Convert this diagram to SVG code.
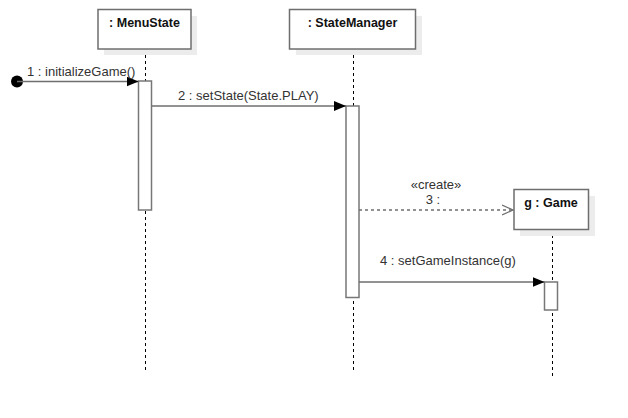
<svg xmlns="http://www.w3.org/2000/svg" width="628" height="418" viewBox="0 0 628 418">
<style>
.shadow{fill:#ececec;stroke:none}
.box{fill:#fff;stroke:#6e6e6e;stroke-width:1.5}
.title{font-family:"Liberation Sans",Arial,sans-serif;font-size:12.5px;font-weight:bold;fill:#111;text-anchor:middle}
.life{stroke:#000;stroke-width:1;stroke-dasharray:3,3;fill:none}
.act{fill:#fff;stroke:#777;stroke-width:1.5}
.msg{stroke:#6e6e6e;stroke-width:1.5;fill:none}
.dash{stroke:#6e6e6e;stroke-width:1.5;fill:none;stroke-dasharray:3,3}
.lbl{font-family:"Liberation Sans",Arial,sans-serif;font-size:13px;fill:#333}
</style>
<defs>
<marker id="filled" markerWidth="12" markerHeight="10" refX="12" refY="5" orient="auto" markerUnits="userSpaceOnUse">
<path d="M0,0 L12,5 L0,10 Z" fill="#000"/>
</marker>
<marker id="open" markerWidth="12" markerHeight="12" refX="11" refY="6" orient="auto" markerUnits="userSpaceOnUse">
<path d="M0,1 L11,6 L0,11" fill="none" stroke="#6e6e6e" stroke-width="1.3"/>
</marker>
</defs>
<g id="lifelines">
<line class="life" x1="145.5" y1="49" x2="145.5" y2="372"/>
<line class="life" x1="353.5" y1="49" x2="353.5" y2="372"/>
<line class="life" x1="552.5" y1="229" x2="552.5" y2="378"/>
</g>
<g id="MenuState">
<rect class="shadow" x="104" y="16" width="93" height="39"/>
<rect class="box" x="98" y="9.5" width="93" height="39.5"/>
<text class="title" x="144.5" y="27">: MenuState</text>
</g>
<g id="StateManager">
<rect class="shadow" x="296" y="16" width="126" height="39"/>
<rect class="box" x="289.5" y="9.5" width="126" height="39.5"/>
<text class="title" x="352.5" y="27">: StateManager</text>
</g>
<g id="Game">
<rect class="shadow" x="520" y="196" width="75" height="40"/>
<rect class="box" x="514" y="189.5" width="74.5" height="40"/>
<text class="title" x="551" y="207">g : Game</text>
</g>
<g id="activations">
<rect class="act" x="138.5" y="81" width="13" height="129"/>
<rect class="act" x="346" y="106" width="13" height="191.5"/>
<rect class="act" x="544.5" y="282" width="13" height="28"/>
</g>
<g id="start">
<circle cx="17" cy="81.5" r="6" fill="#000"/>
</g>
<g id="connectors">
<line class="msg" x1="17" y1="81.5" x2="138.5" y2="81.5" marker-end="url(#filled)"/>
<line class="msg" x1="151.5" y1="106" x2="346" y2="106" marker-end="url(#filled)"/>
<line class="dash" x1="359" y1="210" x2="513" y2="210" marker-end="url(#open)"/>
<line class="msg" x1="359" y1="282" x2="544.5" y2="282" marker-end="url(#filled)"/>
</g>
<g id="labels">
<text class="lbl" x="27" y="76">1 : initializeGame()</text>
<text class="lbl" x="178" y="100">2 : setState(State.PLAY)</text>
<text class="lbl" x="436" y="189" text-anchor="middle" font-size="12">«create»</text>
<text class="lbl" x="433" y="204" text-anchor="middle">3 :</text>
<text class="lbl" x="380" y="265">4 : setGameInstance(g)</text>
</g>
</svg>
